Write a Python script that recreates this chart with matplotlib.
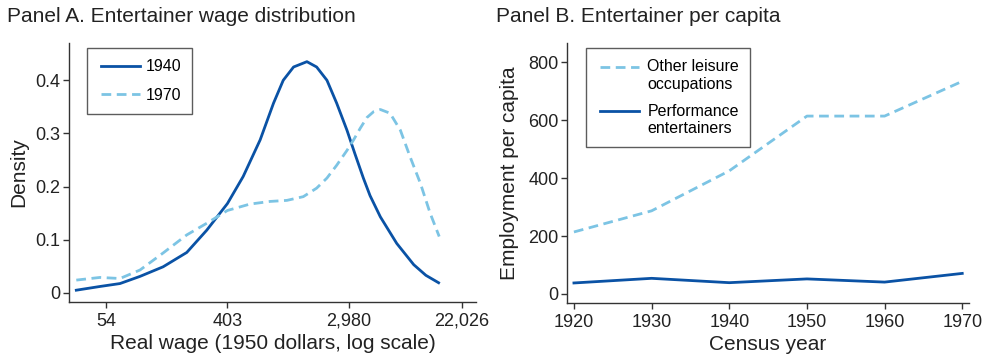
import numpy as np
import matplotlib
matplotlib.use("Agg")
from matplotlib import pyplot as plt

plt.rcParams['font.family'] = ['Liberation Sans', 'DejaVu Sans']

# Panel A: kernel density of log real wage
log_wage_1940 = [3.51, 3.90, 4.23, 4.56, 4.94, 5.33, 5.66, 6.00, 6.26, 6.54, 6.76, 6.92,
                 7.09, 7.31, 7.47, 7.64, 7.80, 7.97, 8.10, 8.24, 8.35, 8.52, 8.79, 9.07,
                 9.27, 9.48]
density_1940 = [0.005, 0.012, 0.0175, 0.031, 0.049, 0.076, 0.118, 0.168, 0.219, 0.288,
                0.357, 0.400, 0.425, 0.435, 0.425, 0.400, 0.357, 0.306, 0.262, 0.216,
                0.183, 0.143, 0.093, 0.053, 0.033, 0.019]
log_wage_1970 = [3.51, 3.90, 4.23, 4.56, 4.94, 5.33, 5.66, 6.00, 6.37, 6.70, 6.98, 7.25,
                 7.47, 7.64, 7.80, 7.97, 8.08, 8.19, 8.30, 8.41, 8.52, 8.68, 8.85, 9.01,
                 9.18, 9.34, 9.49]
density_1970 = [0.024, 0.029, 0.027, 0.043, 0.075, 0.109, 0.131, 0.155, 0.167, 0.172,
                0.174, 0.181, 0.197, 0.216, 0.240, 0.268, 0.288, 0.310, 0.330, 0.341,
                0.345, 0.338, 0.306, 0.256, 0.206, 0.150, 0.106]
wage_ticks = [4, 6, 8, 9.86]
wage_labels = ['54', '403', '2,980', '22,026']

# Panel B: employment per capita by census year
years = [1920, 1930, 1940, 1950, 1960, 1970]
other_leisure = [214, 287, 425, 614, 614, 734]
performers = [38, 54, 39, 52, 41, 71]

DARK = '#0a52a5'
LIGHT = '#7cc4e4'
GREY = '#333333'
TXT = '#222222'

fig = plt.figure(figsize=(9.86, 3.56), dpi=100)
axA = fig.add_axes([0.070, 0.152, 0.413, 0.727])
axB = fig.add_axes([0.575, 0.149, 0.408, 0.730])


def style(ax):
    for s in ('top', 'right'):
        ax.spines[s].set_visible(False)
    for s in ('left', 'bottom'):
        ax.spines[s].set_color(GREY)
        ax.spines[s].set_linewidth(1.0)
    ax.tick_params(direction='out', length=4, width=1.0, color=GREY,
                   labelsize=13, labelcolor=TXT)
    ax.tick_params(axis='y', pad=2)
    ax.tick_params(axis='x', pad=4)


def fix_handles(leg, dy=0.0, trim=1.9):
    # inset the legend line a bit, and lift it to the first line of a two-line label
    for line in leg.get_lines():
        x = np.asarray(line.get_xdata(), dtype=float)
        x[0] += trim
        line.set_xdata(x)
        line.set_ydata(np.asarray(line.get_ydata(), dtype=float) + dy)


leg_kw = dict(loc='upper left', borderaxespad=0, fontsize=11.5, frameon=True,
              fancybox=False, edgecolor=GREY, handlelength=2.65, borderpad=0.7)

axA.plot(log_wage_1940, density_1940, color=DARK, lw=2.0, label='1940')
axA.plot(log_wage_1970, density_1970, color=LIGHT, lw=2.0, ls=(0, (3.5, 2)), label='1970')
axA.set_xlim(3.39, 10.1)
axA.set_ylim(-0.017, 0.47)
axA.set_xticks(wage_ticks)
axA.set_xticklabels(wage_labels)
axA.set_yticks([0, 0.1, 0.2, 0.3, 0.4])
axA.set_yticklabels(['0', '0.1', '0.2', '0.3', '0.4'])
axA.set_xlabel('Real wage (1950 dollars, log scale)', fontsize=15, color=TXT, labelpad=3)
axA.set_ylabel('Density', fontsize=15, color=TXT, labelpad=5)
style(axA)
legA = axA.legend(bbox_to_anchor=(0.044, 0.981), handletextpad=0.31,
                  labelspacing=0.85, **leg_kw)
legA.get_frame().set_linewidth(1.0)
fix_handles(legA)

axB.plot(years, other_leisure, color=LIGHT, lw=2.0, ls=(0, (3.5, 2)),
         label='Other leisure\noccupations')
axB.plot(years, performers, color=DARK, lw=2.0, label='Performance\nentertainers')
axB.set_xlim(1919.1, 1970.9)
axB.set_ylim(-31, 866)
axB.set_xticks(years)
axB.set_yticks([0, 200, 400, 600, 800])
axB.set_xlabel('Census year', fontsize=15, color=TXT, labelpad=3)
axB.set_ylabel('Employment per capita', fontsize=15, color=TXT, labelpad=6.5)
style(axB)
legB = axB.legend(bbox_to_anchor=(0.047, 0.981), handletextpad=0.5,
                  labelspacing=0.75, **leg_kw)
legB.get_frame().set_linewidth(1.0)
for t in legB.get_texts():
    t.set_linespacing(1.2)
fix_handles(legB, dy=6.6)

fig.text(0.007, 0.955, 'Panel A. Entertainer wage distribution', fontsize=15,
         color=TXT, va='center', ha='left')
fig.text(0.503, 0.955, 'Panel B. Entertainer per capita', fontsize=15,
         color=TXT, va='center', ha='left')

fig.savefig('out.png', dpi=100)
